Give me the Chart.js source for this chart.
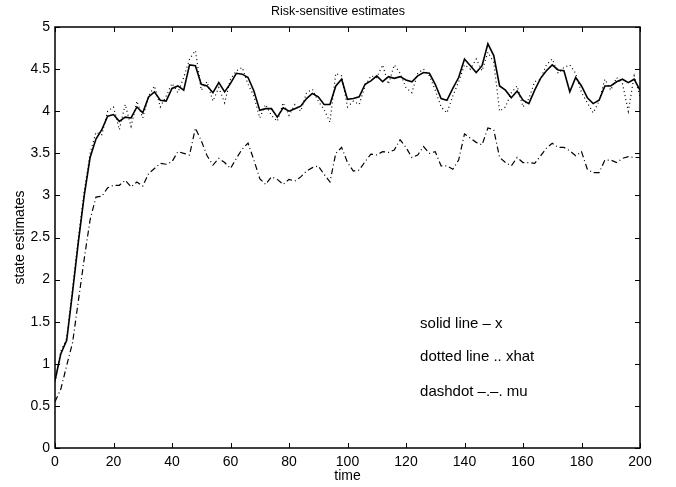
<!DOCTYPE html>
<html>
<head>
<meta charset="utf-8">
<script src="https://cdn.jsdelivr.net/npm/chart.js@4.4.1/dist/chart.umd.min.js"></script>
<style>
  body { margin: 0; background: #fff; }
  #chart { display: block; }
</style>
</head>
<body>
<canvas id="chart" width="676" height="487"></canvas>
<script>
// time steps (every 2 units, 0..200)
const times = [];
for (let t = 0; t <= 200; t += 2) times.push(t);

// solid line - x
const xState = [
  0.80, 1.12, 1.28, 1.85, 2.45, 3.00, 3.45, 3.67, 3.78, 3.94,
  3.96, 3.88, 3.93, 3.92, 4.05, 3.98, 4.17, 4.23, 4.13, 4.12,
  4.27, 4.30, 4.25, 4.55, 4.54, 4.32, 4.30, 4.22, 4.34, 4.23,
  4.33, 4.45, 4.44, 4.40, 4.24, 4.01, 4.03, 4.03, 3.93, 4.04,
  4.00, 4.03, 4.06, 4.15, 4.21, 4.17, 4.08, 4.08, 4.30, 4.38,
  4.14, 4.15, 4.17, 4.32, 4.36, 4.42, 4.35, 4.41, 4.39, 4.41,
  4.37, 4.35, 4.42, 4.46, 4.45, 4.32, 4.15, 4.13, 4.27, 4.40,
  4.62, 4.54, 4.46, 4.54, 4.80, 4.66, 4.30, 4.25, 4.16, 4.24,
  4.13, 4.09, 4.25, 4.39, 4.48, 4.55, 4.49, 4.48, 4.23, 4.40,
  4.30, 4.16, 4.09, 4.13, 4.30, 4.30, 4.35, 4.38, 4.34, 4.38,
  4.25
];

// dotted line .. xhat
const xHat = [
  0.78, 1.15, 1.30, 1.90, 2.50, 3.05, 3.50, 3.75, 3.72, 4.00,
  4.05, 3.78, 4.08, 3.82, 4.12, 3.92, 4.18, 4.30, 4.05, 4.18,
  4.33, 4.22, 4.40, 4.62, 4.72, 4.25, 4.35, 4.12, 4.28, 4.10,
  4.38, 4.48, 4.52, 4.32, 4.18, 3.92, 4.08, 3.95, 3.88, 4.10,
  3.95, 4.08, 4.00, 4.22, 4.26, 4.12, 4.02, 3.87, 4.45, 4.42,
  4.05, 4.12, 4.08, 4.30, 4.42, 4.40, 4.55, 4.32, 4.55, 4.45,
  4.28, 4.22, 4.45, 4.50, 4.42, 4.25, 4.05, 3.98, 4.18, 4.35,
  4.55, 4.50, 4.62, 4.48, 4.70, 4.58, 4.00, 4.05, 4.22, 4.30,
  4.05, 4.15, 4.35, 4.38, 4.55, 4.62, 4.45, 4.52, 4.55, 4.45,
  4.22, 4.10, 3.98, 4.12, 4.38, 4.25, 4.40, 4.33, 4.00, 4.42,
  4.18
];

// dashdot -.-. mu
const mu = [
  0.55, 0.70, 0.98, 1.25, 1.75, 2.25, 2.71, 2.98, 2.99, 3.09,
  3.12, 3.12, 3.18, 3.10, 3.16, 3.11, 3.26, 3.32, 3.38, 3.37,
  3.40, 3.52, 3.50, 3.48, 3.80, 3.65, 3.47, 3.36, 3.44, 3.39,
  3.32, 3.44, 3.55, 3.62, 3.42, 3.20, 3.13, 3.22, 3.19, 3.13,
  3.19, 3.17, 3.22, 3.29, 3.33, 3.35, 3.25, 3.16, 3.50, 3.57,
  3.39, 3.29, 3.30, 3.40, 3.49, 3.48, 3.52, 3.51, 3.54, 3.66,
  3.57, 3.45, 3.48, 3.58, 3.50, 3.52, 3.35, 3.35, 3.31, 3.42,
  3.73, 3.68, 3.63, 3.60, 3.80, 3.78, 3.45, 3.39, 3.35, 3.45,
  3.39, 3.39, 3.38, 3.47, 3.56, 3.62, 3.57, 3.57, 3.53, 3.47,
  3.52, 3.31, 3.27, 3.27, 3.42, 3.42, 3.39, 3.44, 3.46, 3.45,
  3.45
];

const xTicks = [0, 20, 40, 60, 80, 100, 120, 140, 160, 180, 200];
const yTicks = [0, 0.5, 1, 1.5, 2, 2.5, 3, 3.5, 4, 4.5, 5];

const notes = ['solid line \u2013 x', 'dotted line .. xhat', 'dashdot \u2013.\u2013. mu'];
const noteX = 124.8;
const noteY = [1.48, 1.08, 0.67];

const FONT = '"Liberation Sans", Arial, Helvetica, sans-serif';

function toPoints(vals) {
  return times.map((t, i) => ({ x: t, y: vals[i] }));
}

// MATLAB-style box with inward ticks, plus the text notes
const boxPlugin = {
  id: 'matlabBox',
  afterDatasetsDraw(chart) {
    const { ctx, chartArea: a, scales: { x, y } } = chart;
    ctx.save();
    ctx.strokeStyle = '#000';
    ctx.lineWidth = 1.5;
    ctx.strokeRect(a.left, a.top, a.right - a.left, a.bottom - a.top);
    ctx.lineWidth = 1;
    ctx.beginPath();
    x.ticks.forEach(t => {
      const px = Math.round(x.getPixelForValue(t.value)) + 0.5;
      ctx.moveTo(px, a.bottom); ctx.lineTo(px, a.bottom - 5);
      ctx.moveTo(px, a.top); ctx.lineTo(px, a.top + 5);
    });
    y.ticks.forEach(t => {
      const py = Math.round(y.getPixelForValue(t.value)) + 0.5;
      ctx.moveTo(a.left, py); ctx.lineTo(a.left + 5, py);
      ctx.moveTo(a.right, py); ctx.lineTo(a.right - 5, py);
    });
    ctx.stroke();

    ctx.fillStyle = '#000';
    ctx.font = '15px ' + FONT;
    ctx.textAlign = 'left';
    ctx.textBaseline = 'middle';
    notes.forEach((n, i) => {
      ctx.fillText(n, x.getPixelForValue(noteX), y.getPixelForValue(noteY[i]));
    });
    ctx.restore();
  }
};

const chart = new Chart('chart', {
  type: 'line',
  data: {
    datasets: [
      {
        label: 'x',
        data: toPoints(xState),
        borderColor: '#000',
        borderWidth: 1.6,
        pointRadius: 0,
        tension: 0
      },
      {
        label: 'xhat',
        data: toPoints(xHat),
        borderColor: '#000',
        borderWidth: 1.2,
        borderDash: [1, 3],
        pointRadius: 0,
        tension: 0
      },
      {
        label: 'mu',
        data: toPoints(mu),
        borderColor: '#000',
        borderWidth: 1.2,
        borderDash: [6, 3, 1, 3],
        pointRadius: 0,
        tension: 0
      }
    ]
  },
  options: {
    responsive: false,
    animation: false,
    devicePixelRatio: 1,
    layout: { padding: 0 },
    plugins: {
      legend: { display: false },
      tooltip: { enabled: false },
      title: {
        display: true,
        text: 'Risk-sensitive estimates',
        color: '#000',
        font: { family: FONT, size: 12.5, weight: 'normal' },
        padding: { top: 4.5, bottom: 7.5 }
      }
    },
    scales: {
      x: {
        type: 'linear',
        min: 0,
        max: 200,
        afterBuildTicks: s => { s.ticks = xTicks.map(v => ({ value: v })); },
        afterFit: s => { s.height = 39; },
        grid: { display: false, drawTicks: false },
        border: { display: false },
        ticks: {
          color: '#000',
          font: { family: FONT, size: 14 },
          padding: 6,
          maxRotation: 0,
          autoSkip: false,
          callback: v => String(v)
        },
        title: {
          display: true,
          text: 'time',
          color: '#000',
          font: { family: FONT, size: 14 },
          padding: { top: 0, bottom: 2.6 }
        }
      },
      y: {
        type: 'linear',
        min: 0,
        max: 5,
        afterBuildTicks: s => { s.ticks = yTicks.map(v => ({ value: v })); },
        afterFit: s => { s.width = 55; },
        grid: { display: false, drawTicks: false },
        border: { display: false },
        ticks: {
          color: '#000',
          font: { family: FONT, size: 14 },
          padding: 5,
          autoSkip: false,
          callback: v => String(v)
        },
        title: {
          display: true,
          text: 'state estimates',
          color: '#000',
          font: { family: FONT, size: 14 },
          padding: { top: 11.6, bottom: 0 }
        }
      },
      // empty right axis, only reserves the right margin
      yRight: {
        type: 'linear',
        position: 'right',
        display: true,
        afterFit: s => { s.width = 36; },
        grid: { display: false, drawTicks: false },
        border: { display: false },
        ticks: { display: false }
      }
    }
  },
  plugins: [boxPlugin]
});
</script>
</body>
</html>
